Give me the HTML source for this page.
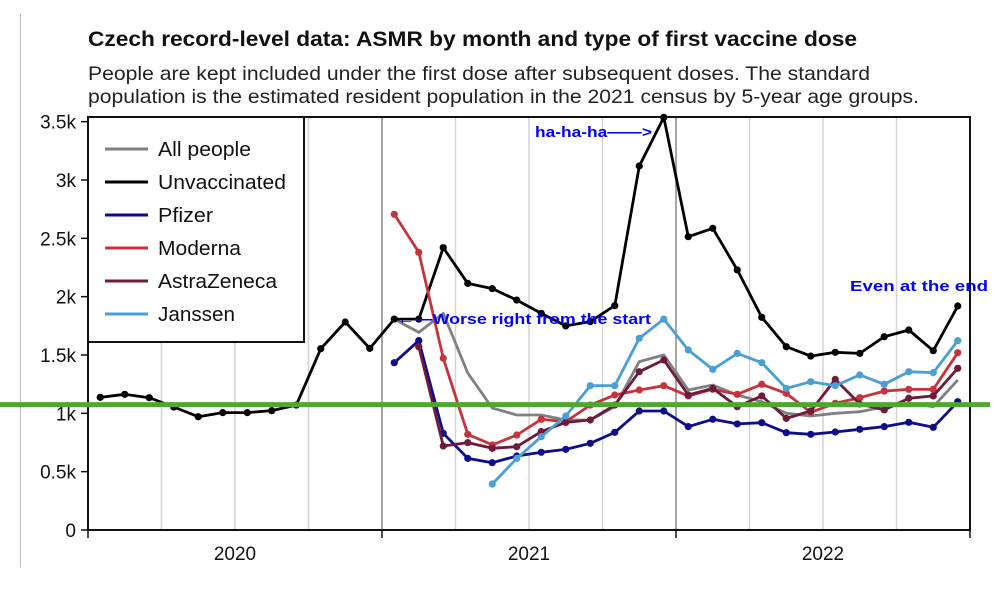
<!DOCTYPE html>
<html><head><meta charset="utf-8"><style>
html,body{margin:0;padding:0;background:#fff;}
body{width:995px;height:590px;overflow:hidden;font-family:"Liberation Sans",Arial,sans-serif;}
</style></head><body>
<svg id="chart" width="995" height="590" viewBox="0 0 995 590" xmlns="http://www.w3.org/2000/svg">
<line x1="20.5" y1="14" x2="20.5" y2="567" stroke="#bbb" stroke-width="1"/>
<text x="88" y="46" font-size="21" font-weight="bold" fill="#111" textLength="769" lengthAdjust="spacingAndGlyphs">Czech record-level data: ASMR by month and type of first vaccine dose</text>
<text x="88" y="80" font-size="19.5" fill="#222" textLength="782" lengthAdjust="spacingAndGlyphs">People are kept included under the first dose after subsequent doses. The standard</text>
<text x="88" y="103" font-size="19.5" fill="#222" textLength="831" lengthAdjust="spacingAndGlyphs">population is the estimated resident population in the 2021 census by 5-year age groups.</text>
<g id="grid"></g><g id="axes"></g><g id="series"></g><g id="overlay"></g>
</svg>
<script>
const months = Array.from({length:36},(_,i)=>i);
const years = ["2020","2021","2022"];
const yTicks = [0,500,1000,1500,2000,2500,3000,3500];
const yTickLabels = ["0","0.5k","1k","1.5k","2k","2.5k","3k","3.5k"];
const seriesNames = ["All people","Unvaccinated","Pfizer","Moderna","AstraZeneca","Janssen"];
const seriesColors = ["#808080","#000000","#0d0d8c","#c8323c","#6e1a3c","#4a9fd4"];
const allPeopleStart = 12;
const allPeople = [1808,1694,1857,1345,1046,986,986,943,943,1057,1443,1500,1200,1243,1157,1100,1000,977,1000,1014,1057,1086,1057,1286];
const unvaxStart = 0;
const unvaccinated = [1137,1163,1134,1054,971,1006,1006,1023,1071,1554,1783,1557,1808,1808,2420,2114,2069,1971,1857,1749,1786,1923,3120,3537,2514,2586,2229,1823,1571,1491,1523,1514,1657,1714,1537,1920];
const pfizerStart = 12;
const pfizer = [1434,1623,829,614,577,634,666,691,743,837,1020,1020,886,949,909,920,834,820,840,863,886,923,880,1100];
const modernaStart = 12;
const moderna = [2706,2380,1472,820,729,814,949,929,1071,1157,1200,1237,1149,1206,1163,1249,1171,1009,1086,1134,1191,1206,1206,1520];
const azStart = 13;
const astrazeneca = [1571,720,749,700,714,843,922,943,1071,1357,1457,1157,1214,1057,1149,957,1020,1291,1080,1029,1129,1149,1386];
const janssenStart = 16;
const janssen = [394,614,800,977,1237,1237,1643,1808,1543,1377,1514,1434,1214,1271,1237,1329,1249,1357,1349,1623];
const baselineValue = 1075;

const L=88,R=970,T=117,B=530;
const xM = i => L + (R-L)/36*(i+0.5);
const xB = m => L + (R-L)/36*m;
const y = v => B - (B-T)*v/3540;
const NS="http://www.w3.org/2000/svg";
function mk(tag, parent, attrs){const e=document.createElementNS(NS,tag);for(const k in attrs)e.setAttribute(k,attrs[k]);parent.appendChild(e);return e;}
const grid=document.getElementById('grid'),axes=document.getElementById('axes'),ser=document.getElementById('series'),ov=document.getElementById('overlay');

for(let q=1;q<12;q++){
  const major = q%4===0;
  const g=mk('line',grid,{x1:xB(q*3),x2:xB(q*3),y1:T,y2:B,stroke:major?'#888':'#d4d4d4','stroke-width':1.5});
  
  
}
const frame=mk('rect',axes,{x:L,y:T,width:R-L,height:B-T,fill:'none',stroke:'#111','stroke-width':2});


yTicks.forEach((v,i)=>{
  const t=mk('line',axes,{x1:L-7,x2:L,y1:y(v),y2:y(v),stroke:'#111','stroke-width':1.5});
  
  
  const tx=mk('text',axes,{x:L-12,y:y(v)+7,'text-anchor':'end','font-size':19,fill:'#111'});
  tx.textContent=yTickLabels[i];
  
  
});
for(let k=0;k<=3;k++){
  const t=mk('line',axes,{x1:xB(k*12),x2:xB(k*12),y1:B,y2:B+8,stroke:'#111','stroke-width':1.5});
  
  
}
years.forEach((yr,k)=>{
  const tx=mk('text',axes,{x:xB(k*12+6),y:B+30,'text-anchor':'middle','font-size':19,fill:'#111'});
  tx.textContent=yr;
  
  
});

const data=[[allPeople,allPeopleStart,false],[unvaccinated,unvaxStart,true],[pfizer,pfizerStart,true],[moderna,modernaStart,true],[astrazeneca,azStart,true],[janssen,janssenStart,true]];
const ids=['all-people','unvaccinated','pfizer','moderna','astrazeneca','janssen'];
data.forEach(([vals,start,dots],s)=>{
  const g=mk('g',ser,{});
  
  
  const pts=vals.map((v,i)=>xM(start+i).toFixed(1)+','+y(v).toFixed(1)).join(' ');
  const pl=mk('polyline',g,{points:pts,fill:'none',stroke:seriesColors[s],'stroke-width':2.8,'stroke-linejoin':'round'});
  
  
  if(dots) vals.forEach((v,i)=>{
    const c=mk('circle',g,{cx:xM(start+i),cy:y(v),r:3.6,fill:seriesColors[s]});
    
    
  });
});

// legend
const lg=mk('g',ov,{});


mk('rect',lg,{x:L,y:T,width:216,height:225,fill:'#fff',stroke:'#111','stroke-width':2});
const legendWidths=[93,128,55,83,119,77];
seriesNames.forEach((n,i)=>{
  const yy=149+i*33;
  const ln=mk('line',lg,{x1:105,x2:148,y1:yy,y2:yy,stroke:seriesColors[i],'stroke-width':3});
  
  
  const t=mk('text',lg,{x:158,y:yy+7,'font-size':20,fill:'#111',textLength:legendWidths[i],lengthAdjust:'spacingAndGlyphs'});
  t.textContent=n;
  
  
});

// baseline
const bl=mk('line',ov,{x1:0,x2:990,y1:y(baselineValue),y2:y(baselineValue),stroke:'#4ea72e','stroke-width':5});



// annotations
const ann=[["ha-ha-ha——>",535,137,117,'annotation-ha-ha-ha'],["←—Worse right from the start",397,324,254,'annotation-worse-from-start'],["Even at the end",850,291,138,'annotation-even-at-end']];
ann.forEach(([txt,x,yy,w,nm])=>{
  const t=mk('text',ov,{x:x,y:yy,'font-size':15,'font-weight':'bold',fill:'#0000ff',textLength:w,lengthAdjust:'spacingAndGlyphs'});
  t.textContent=txt;
  
  
});
</script>
</body></html>
